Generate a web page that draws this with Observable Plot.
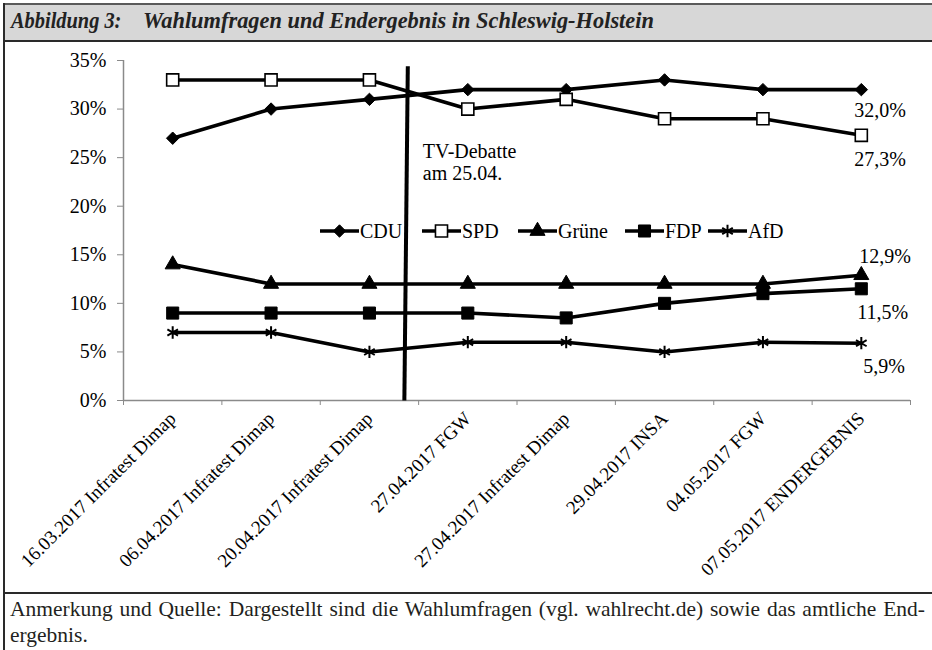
<!DOCTYPE html>
<html><head><meta charset="utf-8">
<script src="https://cdn.jsdelivr.net/npm/d3@7"></script>
<script src="https://cdn.jsdelivr.net/npm/@observablehq/plot@0.6"></script>
<style>
body{margin:0;background:#fff;}
#wrap{position:relative;width:932px;height:650px;overflow:hidden;font-family:"Liberation Serif",serif;color:#000;}
.bar{position:absolute;}
#title{position:absolute;left:0;top:8px;height:30px;font-family:"Liberation Serif",serif;font-style:italic;font-weight:bold;font-size:22.4px;color:#222;white-space:nowrap;}
#title span{position:absolute;top:0;transform-origin:left center;}
#chart{position:absolute;left:0;top:42px;}
#legend{position:absolute;left:0;top:219px;height:24px;width:932px;}
.li{position:absolute;top:0;height:24px;display:flex;align-items:center;font-size:20px;}
.li svg{display:block;}
#cap1{position:absolute;left:10px;top:597px;width:915px;font-size:21.5px;color:#231f20;text-align:justify;text-align-last:justify;white-space:nowrap;}
#cap2{position:absolute;left:10px;top:623px;font-size:21.5px;color:#231f20;}
</style></head>
<body>
<div id="wrap">
  <div class="bar" style="left:3px;top:3px;width:929px;height:2px;background:#5a5a5a"></div>
  <div class="bar" style="left:3px;top:5px;width:929px;height:35px;background:#d7d7d7"></div>
  <div class="bar" style="left:3px;top:40px;width:929px;height:2px;background:#2a2a2a"></div>
  <div class="bar" style="left:3px;top:3px;width:2px;height:647px;background:#2a2a2a"></div>
  <div class="bar" style="left:3px;top:592px;width:929px;height:2px;background:#2a2a2a"></div>
  <div id="title"><span style="left:11px;transform:scaleX(0.91)">Abbildung 3:</span><span style="left:143px">Wahlumfragen und Endergebnis in Schleswig-Holstein</span></div>
  <div id="chart"></div>
  <div id="legend"></div>
  <div id="cap1">Anmerkung und Quelle: Dargestellt sind die Wahlumfragen (vgl. wahlrecht.de) sowie das amtliche End-</div>
  <div id="cap2">ergebnis.</div>
</div>
<script>
// ---- data ----
const polls = [
  "16.03.2017 Infratest Dimap",
  "06.04.2017 Infratest Dimap",
  "20.04.2017 Infratest Dimap",
  "27.04.2017 FGW",
  "27.04.2017 Infratest Dimap",
  "29.04.2017 INSA",
  "04.05.2017 FGW",
  "07.05.2017 ENDERGEBNIS"
];
const parties = ["CDU", "SPD", "Grüne", "FDP", "AfD"];
const cdu   = [27, 30, 31, 32, 32, 33, 32, 32.0];
const spd   = [33, 33, 33, 30, 31, 29, 29, 27.3];
const gruene= [14, 12, 12, 12, 12, 12, 12, 12.9];
const fdp   = [9, 9, 9, 9, 8.5, 10, 11, 11.5];
const afd   = [7, 7, 5, 6, 6, 5, 6, 5.9];
const finalLabels = ["32,0%", "27,3%", "12,9%", "11,5%", "5,9%"];
const yTicks = [0, 5, 10, 15, 20, 25, 30, 35];
const debatteText = "TV-Debatte\nam 25.04.";
// position of the debate marker between 20.04 and 27.04 polls (category index units)
const debatte = {xTop: 2.39, xBottom: 2.355, yTop: 34.4, yBottom: 0};

// ---- styling per series ----
const style = {
  "CDU":   {symbol: "diamond2", fill: "black", stroke: "black", r: 5.6, sw: 1, dx: -7, dy: 21},
  "SPD":   {symbol: "square",   fill: "white", stroke: "black", r: 6.8, sw: 1.6, dx: -7, dy: 24},
  "Grüne": {symbol: "triangle", fill: "black", stroke: "black", r: 5.6, sw: 1, dx: -2, dy: -19},
  "FDP":   {symbol: "square",   fill: "black", stroke: "black", r: 6.8, sw: 1, dx: -4, dy: 24},
  "AfD":   {symbol: "asterisk", fill: "none",  stroke: "black", r: 5.8, sw: 2, dx: 2, dy: 23}
};
const values = [cdu, spd, gruene, fdp, afd];
const rows = parties.flatMap((p, k) => values[k].map((v, i) => ({party: p, i, v})));
const lastRows = parties.map((p, k) => ({party: p, i: polls.length - 1, v: values[k][polls.length - 1], label: finalLabels[k]}));

const marks = [
  Plot.ruleY([0], {stroke: "#8a8a8a", strokeWidth: 1.5}),
  Plot.ruleX([-0.5], {stroke: "#8a8a8a", strokeWidth: 1.5}),
  Plot.axisY({ticks: yTicks, tickFormat: d => d + "%", tickSize: 6, tickPadding: 11, stroke: "#8a8a8a", fontSize: 20, label: null}),
  Plot.axisX({ticks: d3.range(-0.5, polls.length, 1), tickFormat: () => "", tickSize: 5, stroke: "#8a8a8a", label: null}),
  Plot.axisX({ticks: d3.range(polls.length), tickFormat: i => polls[i], tickSize: 0, tickPadding: 15, tickRotate: -45, fontSize: 19, label: null}),
  Plot.line(rows, {x: "i", y: "v", z: "party", stroke: "black", strokeWidth: 3.6, strokeLinejoin: "round"}),
  ...parties.map(p => Plot.dot(rows.filter(d => d.party === p), {
    x: "i", y: "v", symbol: style[p].symbol, r: style[p].r, fill: style[p].fill, stroke: style[p].stroke, strokeWidth: style[p].sw
  })),
  Plot.link([debatte], {x1: "xTop", y1: "yTop", x2: "xBottom", y2: "yBottom", stroke: "black", strokeWidth: 4}),
  Plot.text([debatteText], {x: debatte.xTop, y: 26.6, text: d => d, textAnchor: "start", lineAnchor: "top", dx: 15, fontSize: 20, lineHeight: 1.1}),
  ...parties.map((p, k) => Plot.text([lastRows[k]], {
    x: "i", y: "v", text: "label", textAnchor: "start", dx: style[p].dx, dy: style[p].dy, fontSize: 20
  }))
];

const chart = Plot.plot({
  width: 932,
  height: 550,
  marginTop: 18,
  marginBottom: 192,
  marginLeft: 123,
  marginRight: 22,
  x: {type: "linear", domain: [-0.5, polls.length - 0.5], axis: null},
  y: {domain: [0, 35], axis: null},
  style: {fontFamily: "Liberation Serif", fontSize: "20px", color: "black", background: "transparent", overflow: "visible"},
  marks
});
document.getElementById("chart").appendChild(chart);

// ---- legend (HTML overlay) ----
const legendX = [320, 422, 518, 625, 708];
const symMap = {diamond2: d3.symbolDiamond2, square: d3.symbolSquare, triangle: d3.symbolTriangle, asterisk: d3.symbolAsterisk};
const leg = document.getElementById("legend");
parties.forEach((p, k) => {
  const s = style[p];
  const item = document.createElement("div");
  item.className = "li";
  item.style.left = legendX[k] + "px";
  const w = 39;
  const path = d3.symbol(symMap[s.symbol], Math.PI * s.r * s.r)();
  item.innerHTML = `<svg width="${w}" height="24" viewBox="0 0 ${w} 24"><line x1="0" x2="${w}" y1="12" y2="12" stroke="black" stroke-width="3.6"/><path d="${path}" transform="translate(${w/2},12)" fill="${s.fill}" stroke="${s.stroke}" stroke-width="${s.sw}"/></svg><span style="margin-left:1px">${p}</span>`;
  leg.appendChild(item);
});
</script>
</body></html>
